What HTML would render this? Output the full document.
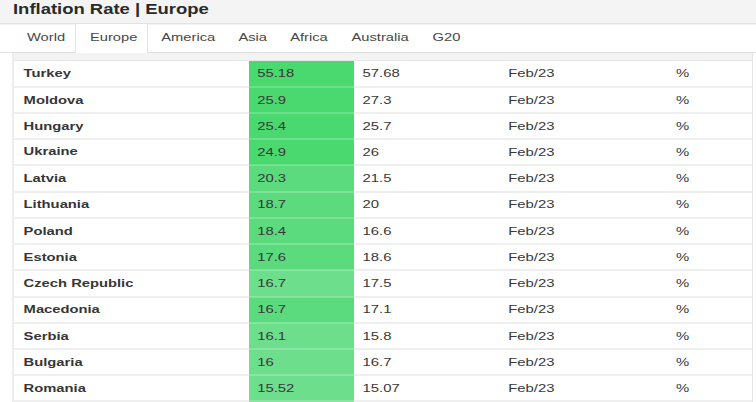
<!DOCTYPE html><html><head><meta charset="utf-8"><style>
*{margin:0;padding:0;box-sizing:border-box}
html,body{width:756px;height:402px;overflow:hidden;background:#fff;font-family:"Liberation Sans",sans-serif;color:#333}
.a{position:absolute}
.t{position:absolute;white-space:nowrap;transform-origin:0 0;line-height:1}
.hl{position:absolute;height:1px;background:#e3e3e3}
.vl{position:absolute;width:1px;background:#e3e3e3}
</style></head><body>
<div class="a" style="left:0;top:0;width:756px;height:23px;background:#f4f4f4"></div><div class="hl" style="left:0;top:23px;width:756px;background:#e2e2e2"></div><div class="hl" style="left:0;top:24px;width:756px;background:#f3f3f3"></div><div class="t" style="left:13.0px;top:2.83px;font-size:18.45px;font-weight:700;color:#2a2a2a;transform:scaleY(0.76)">Inflation Rate | Europe</div><div class="hl" style="left:0;top:52px;width:756px;background:#dedede"></div><div class="a" style="left:75px;top:24px;width:73px;height:29px;background:#fff;border-left:1px solid #e3e3e3;border-right:1px solid #e3e3e3"></div><div class="t" style="left:27px;top:32.31px;font-size:14.7px;font-weight:400;color:#474747;transform:scaleY(0.787)">World</div><div class="t" style="left:90.0px;top:32.31px;font-size:14.7px;font-weight:400;color:#474747;transform:scaleY(0.787)">Europe</div><div class="t" style="left:161.3px;top:32.31px;font-size:14.7px;font-weight:400;color:#474747;transform:scaleY(0.787)">America</div><div class="t" style="left:238.4px;top:32.31px;font-size:14.7px;font-weight:400;color:#474747;transform:scaleY(0.787)">Asia</div><div class="t" style="left:290.2px;top:32.31px;font-size:14.7px;font-weight:400;color:#474747;transform:scaleY(0.787)">Africa</div><div class="t" style="left:351.5px;top:32.31px;font-size:14.7px;font-weight:400;color:#474747;transform:scaleY(0.787)">Australia</div><div class="t" style="left:432.6px;top:32.31px;font-size:14.7px;font-weight:400;color:#474747;transform:scaleY(0.787)">G20</div><div class="a" style="left:13px;top:53px;width:740px;height:8px;background:#f3f3f3"></div><div class="vl" style="left:12px;top:53px;width:2px;height:349px;background:#ececec"></div><div class="vl" style="left:752px;top:53px;height:349px"></div><div class="a" style="left:249.4px;top:60.40px;width:104.7px;height:27.40px;background:#4ad96f"></div><div class="a" style="left:249.4px;top:86.80px;width:104.7px;height:27.60px;background:#4ad96f"></div><div class="a" style="left:249.4px;top:113.40px;width:104.7px;height:26.70px;background:#4ad96f"></div><div class="a" style="left:249.4px;top:139.10px;width:104.7px;height:26.80px;background:#4ad96f"></div><div class="a" style="left:249.4px;top:164.90px;width:104.7px;height:27.60px;background:#5bdb7d"></div><div class="a" style="left:249.4px;top:191.50px;width:104.7px;height:27.40px;background:#5bdb7d"></div><div class="a" style="left:249.4px;top:217.90px;width:104.7px;height:27.30px;background:#5bdb7d"></div><div class="a" style="left:249.4px;top:244.20px;width:104.7px;height:27.10px;background:#5bdb7d"></div><div class="a" style="left:249.4px;top:270.30px;width:104.7px;height:27.40px;background:#6ddf8c"></div><div class="a" style="left:249.4px;top:296.70px;width:104.7px;height:27.50px;background:#5bdb7d"></div><div class="a" style="left:249.4px;top:323.20px;width:104.7px;height:27.00px;background:#6ddf8c"></div><div class="a" style="left:249.4px;top:349.20px;width:104.7px;height:26.90px;background:#6ddf8c"></div><div class="a" style="left:249.4px;top:375.10px;width:104.7px;height:27.10px;background:#6ddf8c"></div><div class="hl" style="left:13px;top:86px;width:236px;height:2px;background:#efefef"></div><div class="hl" style="left:249px;top:86px;width:105px;height:2px;background:rgba(255,255,255,0.2)"></div><div class="hl" style="left:354px;top:86px;width:398px;height:2px;background:#efefef"></div><div class="hl" style="left:13px;top:112px;width:236px;height:2px;background:#efefef"></div><div class="hl" style="left:249px;top:112px;width:105px;height:2px;background:rgba(255,255,255,0.2)"></div><div class="hl" style="left:354px;top:112px;width:398px;height:2px;background:#efefef"></div><div class="hl" style="left:13px;top:138px;width:236px;height:2px;background:#efefef"></div><div class="hl" style="left:249px;top:138px;width:105px;height:2px;background:rgba(255,255,255,0.2)"></div><div class="hl" style="left:354px;top:138px;width:398px;height:2px;background:#efefef"></div><div class="hl" style="left:13px;top:164px;width:236px;height:2px;background:#efefef"></div><div class="hl" style="left:249px;top:164px;width:105px;height:2px;background:rgba(255,255,255,0.2)"></div><div class="hl" style="left:354px;top:164px;width:398px;height:2px;background:#efefef"></div><div class="hl" style="left:13px;top:191px;width:236px;height:2px;background:#efefef"></div><div class="hl" style="left:249px;top:191px;width:105px;height:2px;background:rgba(255,255,255,0.2)"></div><div class="hl" style="left:354px;top:191px;width:398px;height:2px;background:#efefef"></div><div class="hl" style="left:13px;top:217px;width:236px;height:2px;background:#efefef"></div><div class="hl" style="left:249px;top:217px;width:105px;height:2px;background:rgba(255,255,255,0.2)"></div><div class="hl" style="left:354px;top:217px;width:398px;height:2px;background:#efefef"></div><div class="hl" style="left:13px;top:243px;width:236px;height:2px;background:#efefef"></div><div class="hl" style="left:249px;top:243px;width:105px;height:2px;background:rgba(255,255,255,0.2)"></div><div class="hl" style="left:354px;top:243px;width:398px;height:2px;background:#efefef"></div><div class="hl" style="left:13px;top:269px;width:236px;height:2px;background:#efefef"></div><div class="hl" style="left:249px;top:269px;width:105px;height:2px;background:rgba(255,255,255,0.2)"></div><div class="hl" style="left:354px;top:269px;width:398px;height:2px;background:#efefef"></div><div class="hl" style="left:13px;top:296px;width:236px;height:2px;background:#efefef"></div><div class="hl" style="left:249px;top:296px;width:105px;height:2px;background:rgba(255,255,255,0.2)"></div><div class="hl" style="left:354px;top:296px;width:398px;height:2px;background:#efefef"></div><div class="hl" style="left:13px;top:322px;width:236px;height:2px;background:#efefef"></div><div class="hl" style="left:249px;top:322px;width:105px;height:2px;background:rgba(255,255,255,0.2)"></div><div class="hl" style="left:354px;top:322px;width:398px;height:2px;background:#efefef"></div><div class="hl" style="left:13px;top:348px;width:236px;height:2px;background:#efefef"></div><div class="hl" style="left:249px;top:348px;width:105px;height:2px;background:rgba(255,255,255,0.2)"></div><div class="hl" style="left:354px;top:348px;width:398px;height:2px;background:#efefef"></div><div class="hl" style="left:13px;top:374px;width:236px;height:2px;background:#efefef"></div><div class="hl" style="left:249px;top:374px;width:105px;height:2px;background:rgba(255,255,255,0.2)"></div><div class="hl" style="left:354px;top:374px;width:398px;height:2px;background:#efefef"></div><div class="hl" style="left:13px;top:400px;width:236px;height:2px;background:#efefef"></div><div class="hl" style="left:249px;top:400px;width:105px;height:2px;background:rgba(255,255,255,0.2)"></div><div class="hl" style="left:354px;top:400px;width:398px;height:2px;background:#efefef"></div><div class="hl" style="left:13px;top:60px;width:739px;background:#e6e6e6"></div><div class="t" style="left:23.6px;top:68.07px;font-size:14.76px;font-weight:700;color:#363636;transform:scaleY(0.755)">Turkey</div><div class="t" style="left:257.2px;top:68.13px;font-size:14.85px;font-weight:400;color:#383838;transform:scaleY(0.745)">55.18</div><div class="t" style="left:362.6px;top:68.13px;font-size:14.85px;font-weight:400;color:#383838;transform:scaleY(0.745)">57.68</div><div class="t" style="left:508.3px;top:68.13px;font-size:14.85px;font-weight:400;color:#383838;transform:scaleY(0.745)">Feb/23</div><div class="t" style="left:676.0px;top:68.13px;font-size:14.85px;font-weight:400;color:#383838;transform:scaleY(0.745)">%</div><div class="t" style="left:23.6px;top:94.57px;font-size:14.76px;font-weight:700;color:#363636;transform:scaleY(0.755)">Moldova</div><div class="t" style="left:257.2px;top:94.63px;font-size:14.85px;font-weight:400;color:#383838;transform:scaleY(0.745)">25.9</div><div class="t" style="left:362.6px;top:94.63px;font-size:14.85px;font-weight:400;color:#383838;transform:scaleY(0.745)">27.3</div><div class="t" style="left:508.3px;top:94.63px;font-size:14.85px;font-weight:400;color:#383838;transform:scaleY(0.745)">Feb/23</div><div class="t" style="left:676.0px;top:94.63px;font-size:14.85px;font-weight:400;color:#383838;transform:scaleY(0.745)">%</div><div class="t" style="left:23.6px;top:120.72px;font-size:14.76px;font-weight:700;color:#363636;transform:scaleY(0.755)">Hungary</div><div class="t" style="left:257.2px;top:120.78px;font-size:14.85px;font-weight:400;color:#383838;transform:scaleY(0.745)">25.4</div><div class="t" style="left:362.6px;top:120.78px;font-size:14.85px;font-weight:400;color:#383838;transform:scaleY(0.745)">25.7</div><div class="t" style="left:508.3px;top:120.78px;font-size:14.85px;font-weight:400;color:#383838;transform:scaleY(0.745)">Feb/23</div><div class="t" style="left:676.0px;top:120.78px;font-size:14.85px;font-weight:400;color:#383838;transform:scaleY(0.745)">%</div><div class="t" style="left:23.6px;top:146.47px;font-size:14.76px;font-weight:700;color:#363636;transform:scaleY(0.755)">Ukraine</div><div class="t" style="left:257.2px;top:146.53px;font-size:14.85px;font-weight:400;color:#383838;transform:scaleY(0.745)">24.9</div><div class="t" style="left:362.6px;top:146.53px;font-size:14.85px;font-weight:400;color:#383838;transform:scaleY(0.745)">26</div><div class="t" style="left:508.3px;top:146.53px;font-size:14.85px;font-weight:400;color:#383838;transform:scaleY(0.745)">Feb/23</div><div class="t" style="left:676.0px;top:146.53px;font-size:14.85px;font-weight:400;color:#383838;transform:scaleY(0.745)">%</div><div class="t" style="left:23.6px;top:172.67px;font-size:14.76px;font-weight:700;color:#363636;transform:scaleY(0.755)">Latvia</div><div class="t" style="left:257.2px;top:172.73px;font-size:14.85px;font-weight:400;color:#383838;transform:scaleY(0.745)">20.3</div><div class="t" style="left:362.6px;top:172.73px;font-size:14.85px;font-weight:400;color:#383838;transform:scaleY(0.745)">21.5</div><div class="t" style="left:508.3px;top:172.73px;font-size:14.85px;font-weight:400;color:#383838;transform:scaleY(0.745)">Feb/23</div><div class="t" style="left:676.0px;top:172.73px;font-size:14.85px;font-weight:400;color:#383838;transform:scaleY(0.745)">%</div><div class="t" style="left:23.6px;top:199.17px;font-size:14.76px;font-weight:700;color:#363636;transform:scaleY(0.755)">Lithuania</div><div class="t" style="left:257.2px;top:199.23px;font-size:14.85px;font-weight:400;color:#383838;transform:scaleY(0.745)">18.7</div><div class="t" style="left:362.6px;top:199.23px;font-size:14.85px;font-weight:400;color:#383838;transform:scaleY(0.745)">20</div><div class="t" style="left:508.3px;top:199.23px;font-size:14.85px;font-weight:400;color:#383838;transform:scaleY(0.745)">Feb/23</div><div class="t" style="left:676.0px;top:199.23px;font-size:14.85px;font-weight:400;color:#383838;transform:scaleY(0.745)">%</div><div class="t" style="left:23.6px;top:225.52px;font-size:14.76px;font-weight:700;color:#363636;transform:scaleY(0.755)">Poland</div><div class="t" style="left:257.2px;top:225.58px;font-size:14.85px;font-weight:400;color:#383838;transform:scaleY(0.745)">18.4</div><div class="t" style="left:362.6px;top:225.58px;font-size:14.85px;font-weight:400;color:#383838;transform:scaleY(0.745)">16.6</div><div class="t" style="left:508.3px;top:225.58px;font-size:14.85px;font-weight:400;color:#383838;transform:scaleY(0.745)">Feb/23</div><div class="t" style="left:676.0px;top:225.58px;font-size:14.85px;font-weight:400;color:#383838;transform:scaleY(0.745)">%</div><div class="t" style="left:23.6px;top:251.72px;font-size:14.76px;font-weight:700;color:#363636;transform:scaleY(0.755)">Estonia</div><div class="t" style="left:257.2px;top:251.78px;font-size:14.85px;font-weight:400;color:#383838;transform:scaleY(0.745)">17.6</div><div class="t" style="left:362.6px;top:251.78px;font-size:14.85px;font-weight:400;color:#383838;transform:scaleY(0.745)">18.6</div><div class="t" style="left:508.3px;top:251.78px;font-size:14.85px;font-weight:400;color:#383838;transform:scaleY(0.745)">Feb/23</div><div class="t" style="left:676.0px;top:251.78px;font-size:14.85px;font-weight:400;color:#383838;transform:scaleY(0.745)">%</div><div class="t" style="left:23.6px;top:277.97px;font-size:14.76px;font-weight:700;color:#363636;transform:scaleY(0.755)">Czech Republic</div><div class="t" style="left:257.2px;top:278.03px;font-size:14.85px;font-weight:400;color:#383838;transform:scaleY(0.745)">16.7</div><div class="t" style="left:362.6px;top:278.03px;font-size:14.85px;font-weight:400;color:#383838;transform:scaleY(0.745)">17.5</div><div class="t" style="left:508.3px;top:278.03px;font-size:14.85px;font-weight:400;color:#383838;transform:scaleY(0.745)">Feb/23</div><div class="t" style="left:676.0px;top:278.03px;font-size:14.85px;font-weight:400;color:#383838;transform:scaleY(0.745)">%</div><div class="t" style="left:23.6px;top:304.42px;font-size:14.76px;font-weight:700;color:#363636;transform:scaleY(0.755)">Macedonia</div><div class="t" style="left:257.2px;top:304.48px;font-size:14.85px;font-weight:400;color:#383838;transform:scaleY(0.745)">16.7</div><div class="t" style="left:362.6px;top:304.48px;font-size:14.85px;font-weight:400;color:#383838;transform:scaleY(0.745)">17.1</div><div class="t" style="left:508.3px;top:304.48px;font-size:14.85px;font-weight:400;color:#383838;transform:scaleY(0.745)">Feb/23</div><div class="t" style="left:676.0px;top:304.48px;font-size:14.85px;font-weight:400;color:#383838;transform:scaleY(0.745)">%</div><div class="t" style="left:23.6px;top:330.67px;font-size:14.76px;font-weight:700;color:#363636;transform:scaleY(0.755)">Serbia</div><div class="t" style="left:257.2px;top:330.73px;font-size:14.85px;font-weight:400;color:#383838;transform:scaleY(0.745)">16.1</div><div class="t" style="left:362.6px;top:330.73px;font-size:14.85px;font-weight:400;color:#383838;transform:scaleY(0.745)">15.8</div><div class="t" style="left:508.3px;top:330.73px;font-size:14.85px;font-weight:400;color:#383838;transform:scaleY(0.745)">Feb/23</div><div class="t" style="left:676.0px;top:330.73px;font-size:14.85px;font-weight:400;color:#383838;transform:scaleY(0.745)">%</div><div class="t" style="left:23.6px;top:356.62px;font-size:14.76px;font-weight:700;color:#363636;transform:scaleY(0.755)">Bulgaria</div><div class="t" style="left:257.2px;top:356.68px;font-size:14.85px;font-weight:400;color:#383838;transform:scaleY(0.745)">16</div><div class="t" style="left:362.6px;top:356.68px;font-size:14.85px;font-weight:400;color:#383838;transform:scaleY(0.745)">16.7</div><div class="t" style="left:508.3px;top:356.68px;font-size:14.85px;font-weight:400;color:#383838;transform:scaleY(0.745)">Feb/23</div><div class="t" style="left:676.0px;top:356.68px;font-size:14.85px;font-weight:400;color:#383838;transform:scaleY(0.745)">%</div><div class="t" style="left:23.6px;top:382.62px;font-size:14.76px;font-weight:700;color:#363636;transform:scaleY(0.755)">Romania</div><div class="t" style="left:257.2px;top:382.68px;font-size:14.85px;font-weight:400;color:#383838;transform:scaleY(0.745)">15.52</div><div class="t" style="left:362.6px;top:382.68px;font-size:14.85px;font-weight:400;color:#383838;transform:scaleY(0.745)">15.07</div><div class="t" style="left:508.3px;top:382.68px;font-size:14.85px;font-weight:400;color:#383838;transform:scaleY(0.745)">Feb/23</div><div class="t" style="left:676.0px;top:382.68px;font-size:14.85px;font-weight:400;color:#383838;transform:scaleY(0.745)">%</div>
</body></html>
